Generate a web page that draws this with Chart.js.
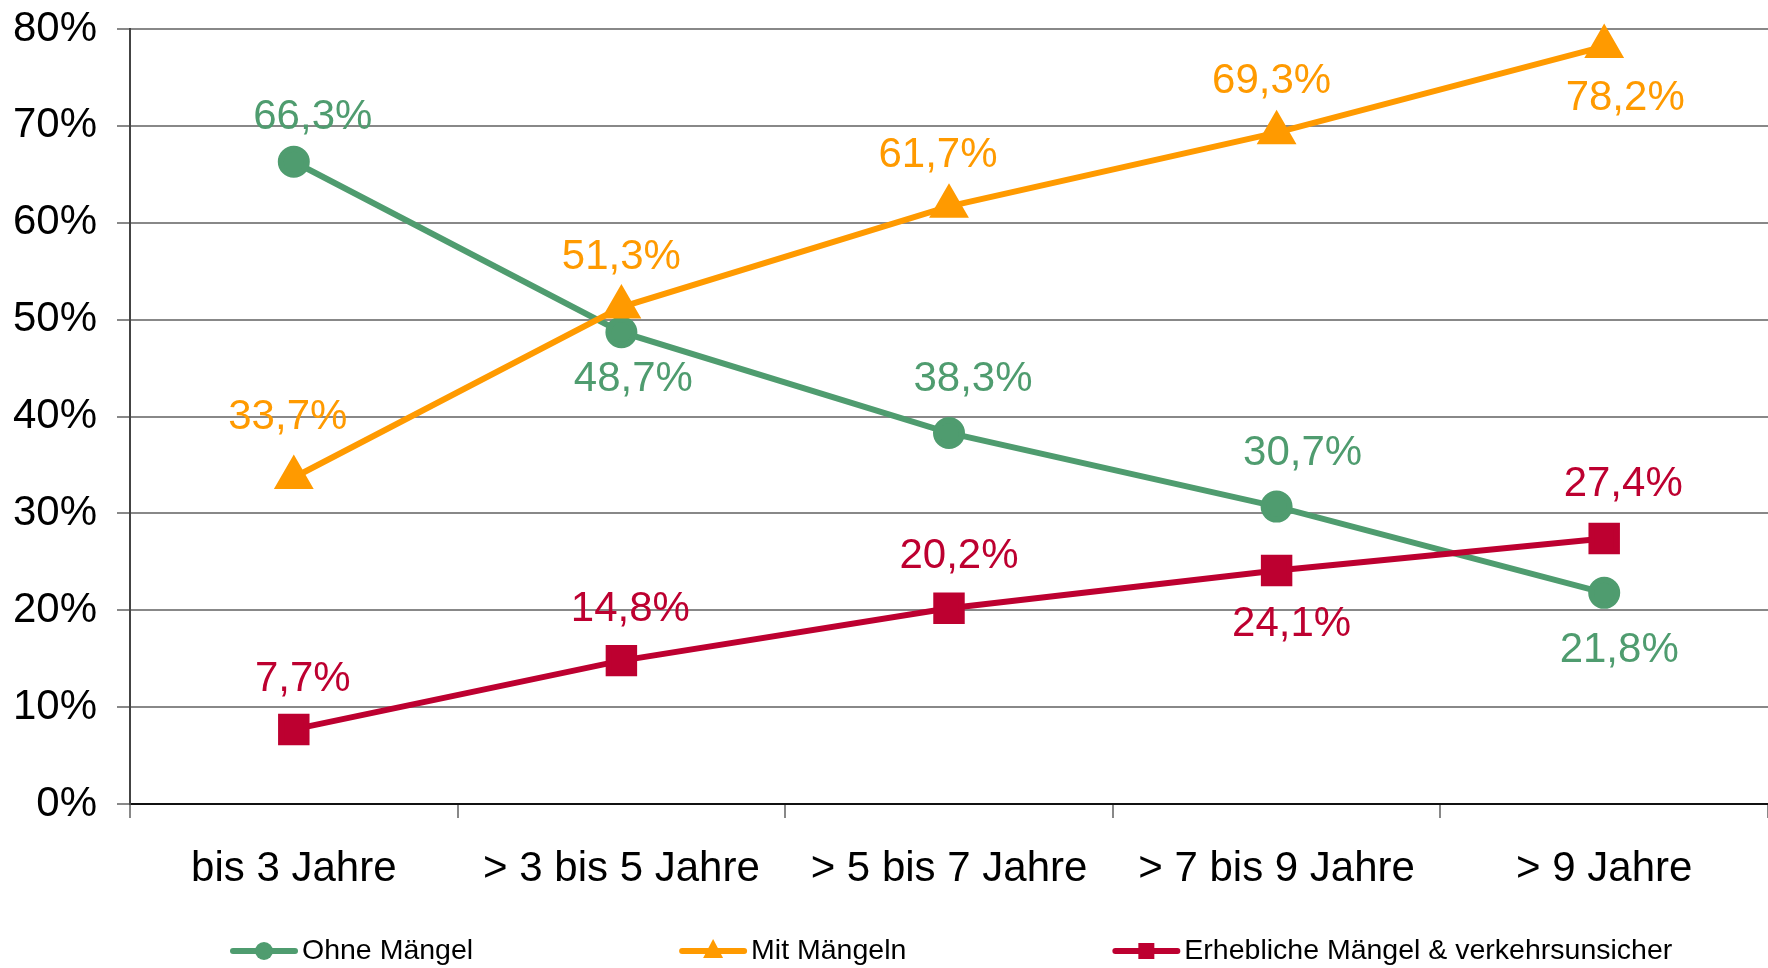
<!DOCTYPE html>
<html lang="de">
<head>
<meta charset="utf-8">
<title>Mängel nach Fahrzeugalter</title>
<script src="https://cdn.jsdelivr.net/npm/chart.js@4/dist/chart.umd.min.js"></script>
<style>
  html, body { margin: 0; padding: 0; background: #fff; overflow: hidden; }
  #grafik { display: block; }
</style>
</head>
<body>
<canvas id="grafik" width="1768" height="968"></canvas>
<script>
// Daten
const kategorien = ["bis 3 Jahre", "> 3 bis 5 Jahre", "> 5 bis 7 Jahre", "> 7 bis 9 Jahre", "> 9 Jahre"];
const ohneMaengel = [66.3, 48.7, 38.3, 30.7, 21.8];
const mitMaengeln = [33.7, 51.3, 61.7, 69.3, 78.2];
const erheblicheMaengel = [7.7, 14.8, 20.2, 24.1, 27.4];
const yTicks = [0, 10, 20, 30, 40, 50, 60, 70, 80];

// Beschriftungs-Versatz je Punkt (Pixel)
const versatzOhne = { dx: [19, 12, 24, 26, 15], dy: [-44, 47, -54, -53, 58] };
const versatzMit = { dx: [-6, 0, -11, -5, 21], dy: [-60, -50, -51, -51, 52] };
const versatzErh = { dx: [9, 9, 10, 15, 19], dy: [-50, -51, -52, 54, -54] };

const schrift = "'Liberation Sans', Arial, sans-serif";
const gruen = "#4f9c6f";
const orange = "#ff9a00";
const rot = "#bd0030";

const fmt = v => v.toFixed(1).replace(".", ",") + "%";

// Werte an den Punkten
const wertePlugin = {
    id: "werte",
    afterDatasetsDraw(chart) {
        const ctx = chart.ctx;
        ctx.save();
        ctx.font = "42px " + schrift;
        ctx.textAlign = "center";
        ctx.textBaseline = "middle";
        chart.data.datasets.forEach((ds, i) => {
            const meta = chart.getDatasetMeta(i);
            ctx.fillStyle = ds.borderColor;
            meta.data.forEach((pt, j) => {
                ctx.fillText(fmt(ds.data[j]), pt.x + ds.versatz.dx[j], pt.y + ds.versatz.dy[j]);
            });
        });
        ctx.restore();
    }
};

// Legende unten
const legendePlugin = {
    id: "legende",
    afterDraw(chart) {
        const ctx = chart.ctx;
        const y = 951;
        let x = 233;
        ctx.save();
        ctx.font = "28.5px " + schrift;
        ctx.textBaseline = "middle";
        chart.data.datasets.forEach(ds => {
            ctx.strokeStyle = ds.borderColor;
            ctx.fillStyle = ds.borderColor;
            ctx.lineWidth = 6;
            ctx.lineCap = "round";
            ctx.beginPath();
            ctx.moveTo(x, y);
            ctx.lineTo(x + 62, y);
            ctx.stroke();
            const mx = x + 31;
            ctx.beginPath();
            if (ds.pointStyle === "circle") {
                ctx.arc(mx, y, 9, 0, Math.PI * 2);
            } else if (ds.pointStyle === "triangle") {
                ctx.moveTo(mx, y - 12);
                ctx.lineTo(mx + 10, y + 7);
                ctx.lineTo(mx - 10, y + 7);
                ctx.closePath();
            } else {
                ctx.rect(mx - 8, y - 8, 16, 16);
            }
            ctx.fill();
            ctx.fillStyle = "#000";
            ctx.textAlign = "left";
            ctx.fillText(ds.label, x + 69, y);
            x += 69 + ctx.measureText(ds.label).width + 209;
        });
        ctx.restore();
    }
};

new Chart(document.getElementById("grafik"), {
    type: "line",
    data: {
        labels: kategorien,
        datasets: [
            {
                label: "Ohne Mängel",
                data: ohneMaengel,
                borderColor: gruen,
                backgroundColor: gruen,
                pointStyle: "circle",
                pointRadius: 13,
                borderWidth: 6,
                order: 3,
                clip: false,
                versatz: versatzOhne
            },
            {
                label: "Mit Mängeln",
                data: mitMaengeln,
                borderColor: orange,
                backgroundColor: orange,
                pointStyle: "triangle",
                pointRadius: 17,
                borderWidth: 6,
                order: 2,
                clip: false,
                versatz: versatzMit
            },
            {
                label: "Erhebliche Mängel & verkehrsunsicher",
                data: erheblicheMaengel,
                borderColor: rot,
                backgroundColor: rot,
                pointStyle: "rect",
                pointRadius: 18,
                borderWidth: 6,
                order: 1,
                clip: false,
                versatz: versatzErh
            }
        ]
    },
    options: {
        responsive: false,
        animation: false,
        devicePixelRatio: 1,
        layout: { autoPadding: false, padding: { top: 29, right: 0, left: 0, bottom: 0 } },
        elements: {
            line: { tension: 0 },
            point: { borderWidth: 0, hoverRadius: 13 }
        },
        plugins: {
            legend: { display: false },
            tooltip: { enabled: false }
        },
        scales: {
            x: {
                offset: true,
                grid: {
                    offset: true,
                    drawOnChartArea: false,
                    drawTicks: true,
                    tickLength: 14,
                    color: "#888",
                    lineWidth: 2
                },
                border: { color: "#111", width: 2 },
                ticks: {
                    color: "#000",
                    font: { size: 42, family: schrift },
                    padding: 26,
                    maxRotation: 0,
                    autoSkip: false
                },
                afterFit: s => {
                    s.height = 164;
                    s.paddingLeft = 0;
                    s.paddingRight = 0;
                }
            },
            y: {
                min: 0,
                max: 80,
                afterBuildTicks: s => { s.ticks = yTicks.map(v => ({ value: v })); },
                grid: {
                    color: "#888",
                    lineWidth: 2,
                    tickLength: 13
                },
                border: { color: "#444", width: 2 },
                ticks: {
                    color: "#000",
                    font: { size: 42, family: schrift },
                    padding: 20,
                    callback: v => v + "%"
                },
                afterFit: s => {
                    s.width = 130;
                    s.paddingTop = 0;
                    s.paddingBottom = 0;
                }
            }
        }
    },
    plugins: [wertePlugin, legendePlugin]
});
</script>
</body>
</html>
